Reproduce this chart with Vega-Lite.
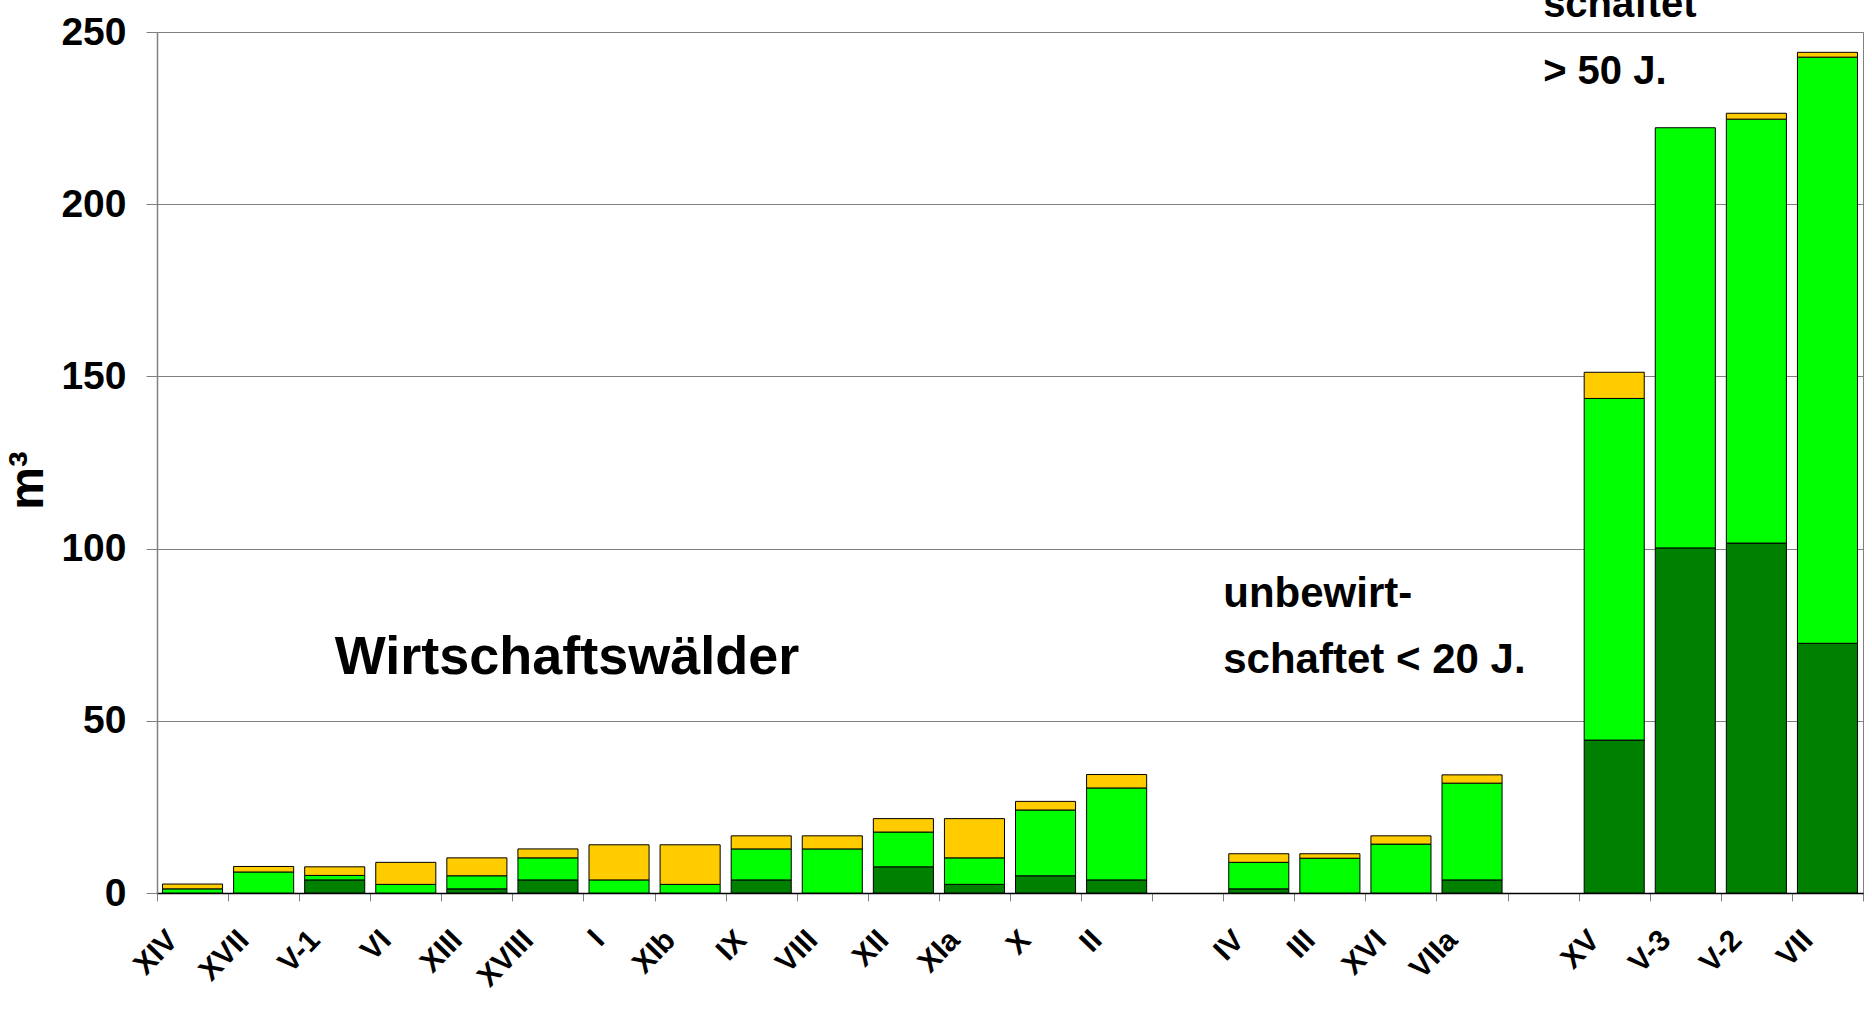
{
  "$schema": "https://vega.github.io/schema/vega-lite/v6.json",
  "width": 1706,
  "height": 861,
  "autosize": {"type": "none"},
  "padding": {"left": 157, "top": 32, "right": 9, "bottom": 123},
  "background": "white",
  "config": {
    "view": {"stroke": "#808080", "strokeWidth": 1},
    "font": "Liberation Sans"
  },
  "layer": [
    {
      "data": {
        "values": [
          {"plot": "XIV", "A": 0, "B": 1.2, "C": 1.4},
          {"plot": "XVII", "A": 0, "B": 6.1, "C": 1.6},
          {"plot": "V-1", "A": 3.8, "B": 1.3, "C": 2.5},
          {"plot": "VI", "A": 0, "B": 2.5, "C": 6.4},
          {"plot": "XIII", "A": 1.2, "B": 3.8, "C": 5.2},
          {"plot": "XVIII", "A": 3.8, "B": 6.4, "C": 2.6},
          {"plot": "I", "A": 0, "B": 3.8, "C": 10.2},
          {"plot": "XIb", "A": 0, "B": 2.5, "C": 11.5},
          {"plot": "IX", "A": 3.8, "B": 9.0, "C": 3.8},
          {"plot": "VIII", "A": 0, "B": 12.8, "C": 3.8},
          {"plot": "XII", "A": 7.6, "B": 10.1, "C": 3.9},
          {"plot": "XIa", "A": 2.5, "B": 7.7, "C": 11.4},
          {"plot": "X", "A": 5.0, "B": 19.1, "C": 2.5},
          {"plot": "II", "A": 3.8, "B": 26.7, "C": 3.9},
          {"plot": "IV", "A": 1.2, "B": 7.7, "C": 2.5},
          {"plot": "III", "A": 0, "B": 10.1, "C": 1.3},
          {"plot": "XVI", "A": 0, "B": 14.2, "C": 2.4},
          {"plot": "VIIa", "A": 3.8, "B": 28.1, "C": 2.4},
          {"plot": "XV", "A": 44.4, "B": 99.2, "C": 7.6},
          {"plot": "V-3", "A": 100.2, "B": 122.0, "C": 0},
          {"plot": "V-2", "A": 101.6, "B": 123.1, "C": 1.7},
          {"plot": "VII", "A": 72.5, "B": 170.2, "C": 1.4}
        ]
      },
      "transform": [
        {"fold": ["A", "B", "C"], "as": ["part", "value"]},
        {"filter": "datum.value > 0"}
      ],
      "mark": {"type": "bar", "width": {"band": 0.845}, "stroke": "#000000", "strokeWidth": 1},
      "encoding": {
        "x": {
          "field": "plot",
          "type": "nominal",
          "sort": null,
          "scale": {
            "domain": ["XIV", "XVII", "V-1", "VI", "XIII", "XVIII", "I", "XIb", "IX", "VIII", "XII", "XIa", "X", "II", "gap1", "IV", "III", "XVI", "VIIa", "gap2", "XV", "V-3", "V-2", "VII"],
            "paddingInner": 0,
            "paddingOuter": 0
          },
          "axis": {
            "title": null,
            "labelAngle": -46,
            "labelAlign": "right",
            "labelBaseline": "middle",
            "labelFont": "Liberation Sans",
            "labelFontWeight": "bold",
            "labelFontSize": 30,
            "labelColor": "#000000",
            "labelPadding": 34,
            "labelOffset": -20,
            "labelOverlap": false,
            "labelBound": false,
            "labelExpr": "indexof(datum.label, 'gap') == 0 ? '' : datum.label",
            "tickBand": "extent",
            "tickSize": 8,
            "tickColor": "#808080",
            "domainColor": "#000000",
            "domainWidth": 1.5,
            "grid": false
          }
        },
        "y": {
          "field": "value",
          "type": "quantitative",
          "stack": "zero",
          "scale": {"domain": [0, 250], "nice": false},
          "axis": {
            "title": "m³",
            "titleFont": "Liberation Sans",
            "titleFontWeight": "bold",
            "titleFontSize": 48,
            "titleColor": "#000000",
            "titlePadding": 8,
            "titleY": 448,
            "values": [0, 50, 100, 150, 200, 250],
            "labelFont": "Liberation Sans",
            "labelFontWeight": "bold",
            "labelFontSize": 39,
            "labelColor": "#000000",
            "labelPadding": 20,
            "tickSize": 11,
            "tickColor": "#808080",
            "domainColor": "#808080",
            "domainWidth": 1.5,
            "grid": true,
            "gridColor": "#808080",
            "gridWidth": 1
          }
        },
        "color": {
          "field": "part",
          "type": "nominal",
          "scale": {"domain": ["A", "B", "C"], "range": ["#008000", "#00FF00", "#FFCC00"]},
          "legend": null
        },
        "order": {"field": "part", "type": "nominal", "sort": "ascending"}
      }
    },
    {
      "data": {"values": [{"plot": "V-1", "y": 63.5, "label": "Wirtschaftswälder"}]},
      "mark": {"type": "text", "align": "left", "baseline": "alphabetic", "font": "Liberation Sans", "fontWeight": "bold", "fontSize": 54, "color": "#000000"},
      "encoding": {
        "x": {"field": "plot", "type": "nominal", "bandPosition": 0.5},
        "y": {"field": "y", "type": "quantitative"},
        "text": {"field": "label"}
      }
    },
    {
      "data": {"values": [
        {"plot": "IV", "y": 83, "label": "unbewirt-"},
        {"plot": "IV", "y": 63.8, "label": "schaftet < 20 J."}
      ]},
      "mark": {"type": "text", "align": "left", "baseline": "alphabetic", "font": "Liberation Sans", "fontWeight": "bold", "fontSize": 42, "color": "#000000"},
      "encoding": {
        "x": {"field": "plot", "type": "nominal", "bandPosition": 0},
        "y": {"field": "y", "type": "quantitative"},
        "text": {"field": "label"}
      }
    },
    {
      "data": {"values": [
        {"plot": "gap2", "y": 254.4, "label": "schaftet"},
        {"plot": "gap2", "y": 234.8, "label": "> 50 J."}
      ]},
      "mark": {"type": "text", "align": "left", "baseline": "alphabetic", "font": "Liberation Sans", "fontWeight": "bold", "fontSize": 40, "color": "#000000", "clip": false},
      "encoding": {
        "x": {"field": "plot", "type": "nominal", "bandPosition": 0.5},
        "y": {"field": "y", "type": "quantitative"},
        "text": {"field": "label"}
      }
    }
  ]
}
